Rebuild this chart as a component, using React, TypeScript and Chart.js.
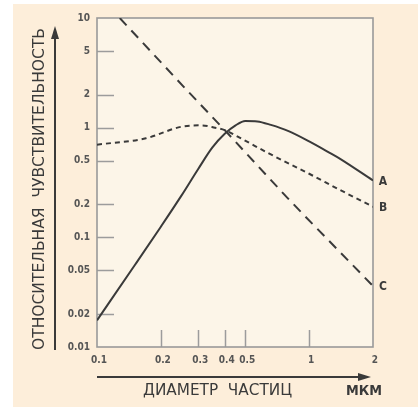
import React, { useEffect, useRef } from "react";
import { Chart, registerables } from "chart.js";

Chart.register(...registerables);

// ---- data ----
const aX = [0.1, 0.15, 0.2, 0.25, 0.3, 0.35, 0.4, 0.45, 0.5, 0.57, 0.66, 0.8, 1, 1.25, 1.4, 2];
const aY = [0.0175, 0.055, 0.125, 0.24, 0.42, 0.66, 0.88, 1.05, 1.15, 1.14, 1.06, 0.93, 0.75, 0.59, 0.52, 0.33];

const bX = [0.1, 0.17, 0.25, 0.31, 0.36, 0.4, 0.47, 0.66, 1, 1.4, 2];
const bY = [0.7, 0.8, 1.02, 1.05, 1.0, 0.95, 0.81, 0.57, 0.38, 0.27, 0.19];

const cX = [0.128, 0.265, 0.4, 0.78, 0.935, 2];
const cY = [10, 2.2, 0.95, 0.235, 0.163, 0.036];

const curveLabels = ["A", "B", "C"];

const xTicks = [0.1, 0.2, 0.3, 0.4, 0.5, 1, 2];
const yTicks = [0.01, 0.02, 0.05, 0.1, 0.2, 0.5, 1, 2, 5, 10];
const xInnerTicks = [0.2, 0.3, 0.4, 0.5, 1];
const yInnerTicks = [0.02, 0.05, 0.1, 0.2, 0.5, 1, 2, 5];

const yTitle = "ОТНОСИТЕЛЬНАЯ  ЧУВСТВИТЕЛЬНОСТЬ";
const xTitle = "ДИАМЕТР  ЧАСТИЦ";
const xUnit = "МКМ";

const FONT = "'Liberation Sans Narrow', 'DejaVu Sans Condensed', 'Liberation Sans', Arial, sans-serif";
const INK = "#3a3a3a";

const pts = (xs: number[], ys: number[]) => xs.map((x, i) => ({ x, y: ys[i] }));

const decor = {
  id: "decor",
  beforeDraw(chart: any) {
    const { ctx, width, height, chartArea: ca } = chart;
    ctx.save();
    ctx.fillStyle = "#ffffff";
    ctx.fillRect(0, 0, width, height);
    ctx.fillStyle = "#fdeeda";
    ctx.fillRect(13, 4, width - 13, height - 4);
    ctx.fillStyle = "#fcf5e8";
    ctx.fillRect(ca.left, ca.top, ca.right - ca.left, ca.bottom - ca.top);
    ctx.restore();
  },
  beforeDatasetsDraw(chart: any) {
    const { ctx, chartArea: ca, scales } = chart;
    const xs = scales.x, ys = scales.y;
    ctx.save();
    ctx.strokeStyle = "#9c9c9c";
    ctx.lineWidth = 1.5;
    ctx.beginPath();
    yInnerTicks.forEach((v) => {
      const y = Math.round(ys.getPixelForValue(v)) + 0.5;
      ctx.moveTo(ca.left, y);
      ctx.lineTo(ca.left + 17, y);
    });
    xInnerTicks.forEach((v) => {
      const x = Math.round(xs.getPixelForValue(v)) + 0.5;
      ctx.moveTo(x, ca.bottom);
      ctx.lineTo(x, ca.bottom - 17);
    });
    ctx.stroke();
    ctx.strokeStyle = "#999999";
    ctx.lineWidth = 1.6;
    ctx.strokeRect(ca.left, ca.top, ca.right - ca.left, ca.bottom - ca.top);
    ctx.restore();
  },
  afterDraw(chart: any) {
    const { ctx, chartArea: ca, scales } = chart;
    const ys = scales.y;
    ctx.save();
    ctx.fillStyle = INK;
    ctx.strokeStyle = INK;
    ctx.lineWidth = 2;

    // left arrow
    ctx.beginPath();
    ctx.moveTo(55, 350);
    ctx.lineTo(55, 36);
    ctx.stroke();
    ctx.beginPath();
    ctx.moveTo(55, 26);
    ctx.lineTo(51, 39);
    ctx.lineTo(59, 39);
    ctx.closePath();
    ctx.fill();

    // bottom arrow
    ctx.beginPath();
    ctx.moveTo(ca.left, 377);
    ctx.lineTo(360, 377);
    ctx.stroke();
    ctx.beginPath();
    ctx.moveTo(371, 377);
    ctx.lineTo(358, 373);
    ctx.lineTo(358, 381);
    ctx.closePath();
    ctx.fill();

    // left title
    ctx.font = `15px ${FONT}`;
    ctx.textBaseline = "middle";
    ctx.textAlign = "center";
    let w = ctx.measureText(yTitle).width;
    ctx.save();
    ctx.translate(39, 189);
    ctx.rotate(-Math.PI / 2);
    ctx.scale(322 / w, 1);
    ctx.fillText(yTitle, 0, 1);
    ctx.restore();

    // bottom title
    ctx.textAlign = "left";
    w = ctx.measureText(xTitle).width;
    ctx.save();
    ctx.translate(143, 391);
    ctx.scale(149 / w, 1);
    ctx.fillText(xTitle, 0, 0);
    ctx.restore();
    ctx.font = `bold 14px ${FONT}`;
    w = ctx.measureText(xUnit).width;
    ctx.save();
    ctx.translate(346, 391);
    ctx.scale(36 / w, 1);
    ctx.fillText(xUnit, 0, 0);
    ctx.restore();

    // curve labels
    ctx.font = `bold 12px ${FONT}`;
    ctx.textAlign = "center";
    const lastVals = [aY[aY.length - 1], bY[bY.length - 1], cY[cY.length - 1]];
    curveLabels.forEach((lab, i) => {
      ctx.fillText(lab, ca.right + 10, ys.getPixelForValue(lastVals[i]) + 1);
    });
    ctx.restore();
  },
};

export default function App() {
  const ref = useRef<HTMLCanvasElement>(null);
  useEffect(() => {
    document.body.style.margin = "0";
    const chart = new Chart(ref.current as HTMLCanvasElement, {
      type: "line",
      data: {
        datasets: [
          {
            label: curveLabels[0],
            data: pts(aX, aY),
            borderColor: INK,
            borderWidth: 2,
            pointRadius: 0,
            cubicInterpolationMode: "monotone",
          },
          {
            label: curveLabels[1],
            data: pts(bX, bY),
            borderColor: INK,
            borderWidth: 2,
            borderDash: [5, 4],
            pointRadius: 0,
            cubicInterpolationMode: "monotone",
          },
          {
            label: curveLabels[2],
            data: pts(cX, cY),
            borderColor: INK,
            borderWidth: 2,
            borderDash: [10, 7],
            pointRadius: 0,
            tension: 0,
          },
        ],
      },
      options: {
        animation: false,
        responsive: false,
        events: [],
        layout: { padding: { left: 0, right: 45, top: 18, bottom: 0 } },
        plugins: { legend: { display: false }, tooltip: { enabled: false } },
        scales: {
          x: {
            type: "logarithmic",
            min: 0.1,
            max: 2,
            afterFit: (s: any) => {
              s.height = 60;
            },
            afterBuildTicks: (s: any) => {
              s.ticks = xTicks.map((v) => ({ value: v }));
            },
            grid: { display: false, drawTicks: false },
            border: { display: false },
            ticks: {
              autoSkip: false,
              maxRotation: 0,
              padding: 7,
              labelOffset: 2,
              color: "#555",
              font: { family: FONT, size: 10, weight: "bold" },
              callback: (v: any) => String(v),
            },
          },
          y: {
            type: "logarithmic",
            min: 0.01,
            max: 10,
            afterFit: (s: any) => {
              s.width = 97;
            },
            afterBuildTicks: (s: any) => {
              s.ticks = yTicks.map((v) => ({ value: v }));
            },
            grid: { display: false, drawTicks: false },
            border: { display: false },
            ticks: {
              autoSkip: false,
              padding: 7,
              color: "#555",
              font: { family: FONT, size: 10, weight: "bold" },
              callback: (v: any) => String(v),
            },
          },
        },
      },
      plugins: [decor],
    } as any);
    return () => chart.destroy();
  }, []);
  return (
    <div style={{ position: "absolute", left: 0, top: 0, width: 418, height: 407 }}>
      <canvas ref={ref} width={418} height={407} style={{ display: "block" }} />
    </div>
  );
}
